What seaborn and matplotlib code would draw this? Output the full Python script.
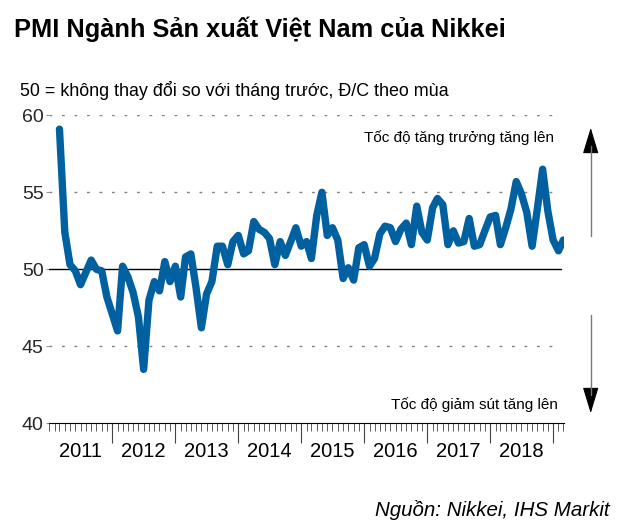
import matplotlib
matplotlib.use('Agg')
import matplotlib.pyplot as plt
import matplotlib.dates as mdates
from matplotlib.lines import Line2D
import pandas as pd
import seaborn as sns

# Monthly PMI, Mar 2011 - Mar 2019
start_month = '2011-03-01'
pmi_2011 = [59.1, 52.4, 50.3, 49.9, 49.0, 49.8, 50.6, 50.0, 49.9, 48.2]
pmi_2012 = [47.1, 46.0, 50.2, 49.5, 48.5, 46.9, 43.5, 48.0, 49.2, 48.6, 50.5, 49.2]
pmi_2013 = [50.2, 48.2, 50.8, 51.0, 48.8, 46.2, 48.4, 49.2, 51.5, 51.5, 50.3, 51.8]
pmi_2014 = [52.2, 51.0, 51.2, 53.1, 52.6, 52.4, 52.0, 50.3, 51.8, 50.9, 51.8, 52.7]
pmi_2015 = [51.5, 51.8, 50.7, 53.5, 55.0, 52.2, 52.7, 51.9, 49.4, 50.1, 49.3, 51.4]
pmi_2016 = [51.6, 50.2, 50.7, 52.3, 52.8, 52.7, 51.8, 52.6, 53.0, 51.6, 54.1, 52.4]
pmi_2017 = [51.9, 54.0, 54.6, 54.2, 51.6, 52.5, 51.7, 51.8, 53.3, 51.5, 51.6, 52.5]
pmi_2018 = [53.4, 53.5, 51.6, 52.7, 53.9, 55.7, 54.9, 53.7, 51.5, 53.9, 56.5, 53.8]
pmi_2019 = [51.9, 51.2, 51.9]

years = ['2011', '2012', '2013', '2014', '2015', '2016', '2017', '2018']
y_ticks = [40, 45, 50, 55, 60]

title = 'PMI Ngành Sản xuất Việt Nam của Nikkei'
subtitle = '50 = không thay đổi so với tháng trước, Đ/C theo mùa'
up_text = 'Tốc độ tăng trưởng tăng lên'
down_text = 'Tốc độ giảm sút tăng lên'
source = 'Nguồn: Nikkei, IHS Markit'

values = pmi_2011 + pmi_2012 + pmi_2013 + pmi_2014 + pmi_2015 + pmi_2016 + pmi_2017 + pmi_2018 + pmi_2019
df = pd.DataFrame({'date': pd.date_range(start_month, periods=len(values), freq='MS'),
                   'pmi': values})

sns.set_theme(style='white')
plt.rcParams['font.family'] = ['Liberation Sans', 'DejaVu Sans']

W, H = 640, 531
fig = plt.figure(figsize=(W / 100, H / 100), dpi=100)
ax = fig.add_axes([49.3 / W, 1 - 423.3 / H, (564 - 49.3) / W, (423.3 - 115.3) / H])

# reference lines
for v in [45, 55, 60]:
    ax.axhline(v, xmin=0, xmax=0.985, color='#808080', lw=1, linestyle=(0, (2, 7)), zorder=1)
ax.axhline(50, xmin=0, xmax=0.994, color='black', lw=1, zorder=1)

sns.lineplot(data=df, x='date', y='pmi', ax=ax, color='#0060A0', linewidth=5.3, zorder=3)

ax.set_xlim(pd.Timestamp('2011-01-01'), pd.Timestamp('2019-03-05'))
ax.set_ylim(40, 60)
ax.set_xlabel('')
ax.set_ylabel('')

for s in ['top', 'right', 'left']:
    ax.spines[s].set_visible(False)
ax.spines['bottom'].set_color('black')
ax.spines['bottom'].set_linewidth(0.8)

ax.set_yticks(y_ticks)
ax.set_yticklabels([str(t) for t in y_ticks])
ax.tick_params(axis='y', length=2.5, width=0.8, color='#999999', pad=1.5, labelsize=14, left=True)

year_starts = [pd.Timestamp(f'{int(y) + 1}-01-01') for y in years]
ax.set_xticks(year_starts)
ax.set_xticklabels(['' for _ in year_starts])
ax.xaxis.set_minor_locator(mdates.MonthLocator())
ax.tick_params(axis='x', which='major', length=14.5, width=0.8, color='#444444', bottom=True)
ax.tick_params(axis='x', which='minor', length=6, width=0.6, color='#444444', bottom=True)

for y in years:
    ax.text(pd.Timestamp(f'{y}-07-01'), -0.092, y, transform=ax.get_xaxis_transform(),
            ha='center', va='center', fontsize=14.5, color='black')

# texts
fig.text(14 / W, 1 - 29 / H, title, fontsize=18.3, fontweight='bold', ha='left', va='center', color='black')
fig.text(20 / W, 1 - 90 / H, subtitle, fontsize=12.9, ha='left', va='center', color='black')
fig.text(554 / W, 1 - 138 / H, up_text, fontsize=11, ha='right', va='center', color='black')
fig.text(558 / W, 1 - 405 / H, down_text, fontsize=11, ha='right', va='center', color='black')
fig.text(610 / W, 1 - 510 / H, source, fontsize=14.8, fontstyle='italic', ha='right', va='center', color='black')

# arrows on the right
ax_x = 590.7 / W
fig.add_artist(Line2D([ax_x, ax_x], [1 - 146 / H, 1 - 236 / H], color='#777777', lw=1))
fig.add_artist(Line2D([ax_x, ax_x], [1 - 315 / H, 1 - 395 / H], color='#777777', lw=1))
arrow = dict(arrowstyle='-|>,head_length=1.65,head_width=0.5', color='black', lw=0.8, mutation_scale=10)
ax.annotate('', xy=(ax_x, 1 - 125 / H), xytext=(ax_x, 1 - 148 / H), xycoords='figure fraction',
            arrowprops=arrow, annotation_clip=False)
ax.annotate('', xy=(ax_x, 1 - 416 / H), xytext=(ax_x, 1 - 393 / H), xycoords='figure fraction',
            arrowprops=arrow, annotation_clip=False)

fig.savefig('out.png', dpi=100)
